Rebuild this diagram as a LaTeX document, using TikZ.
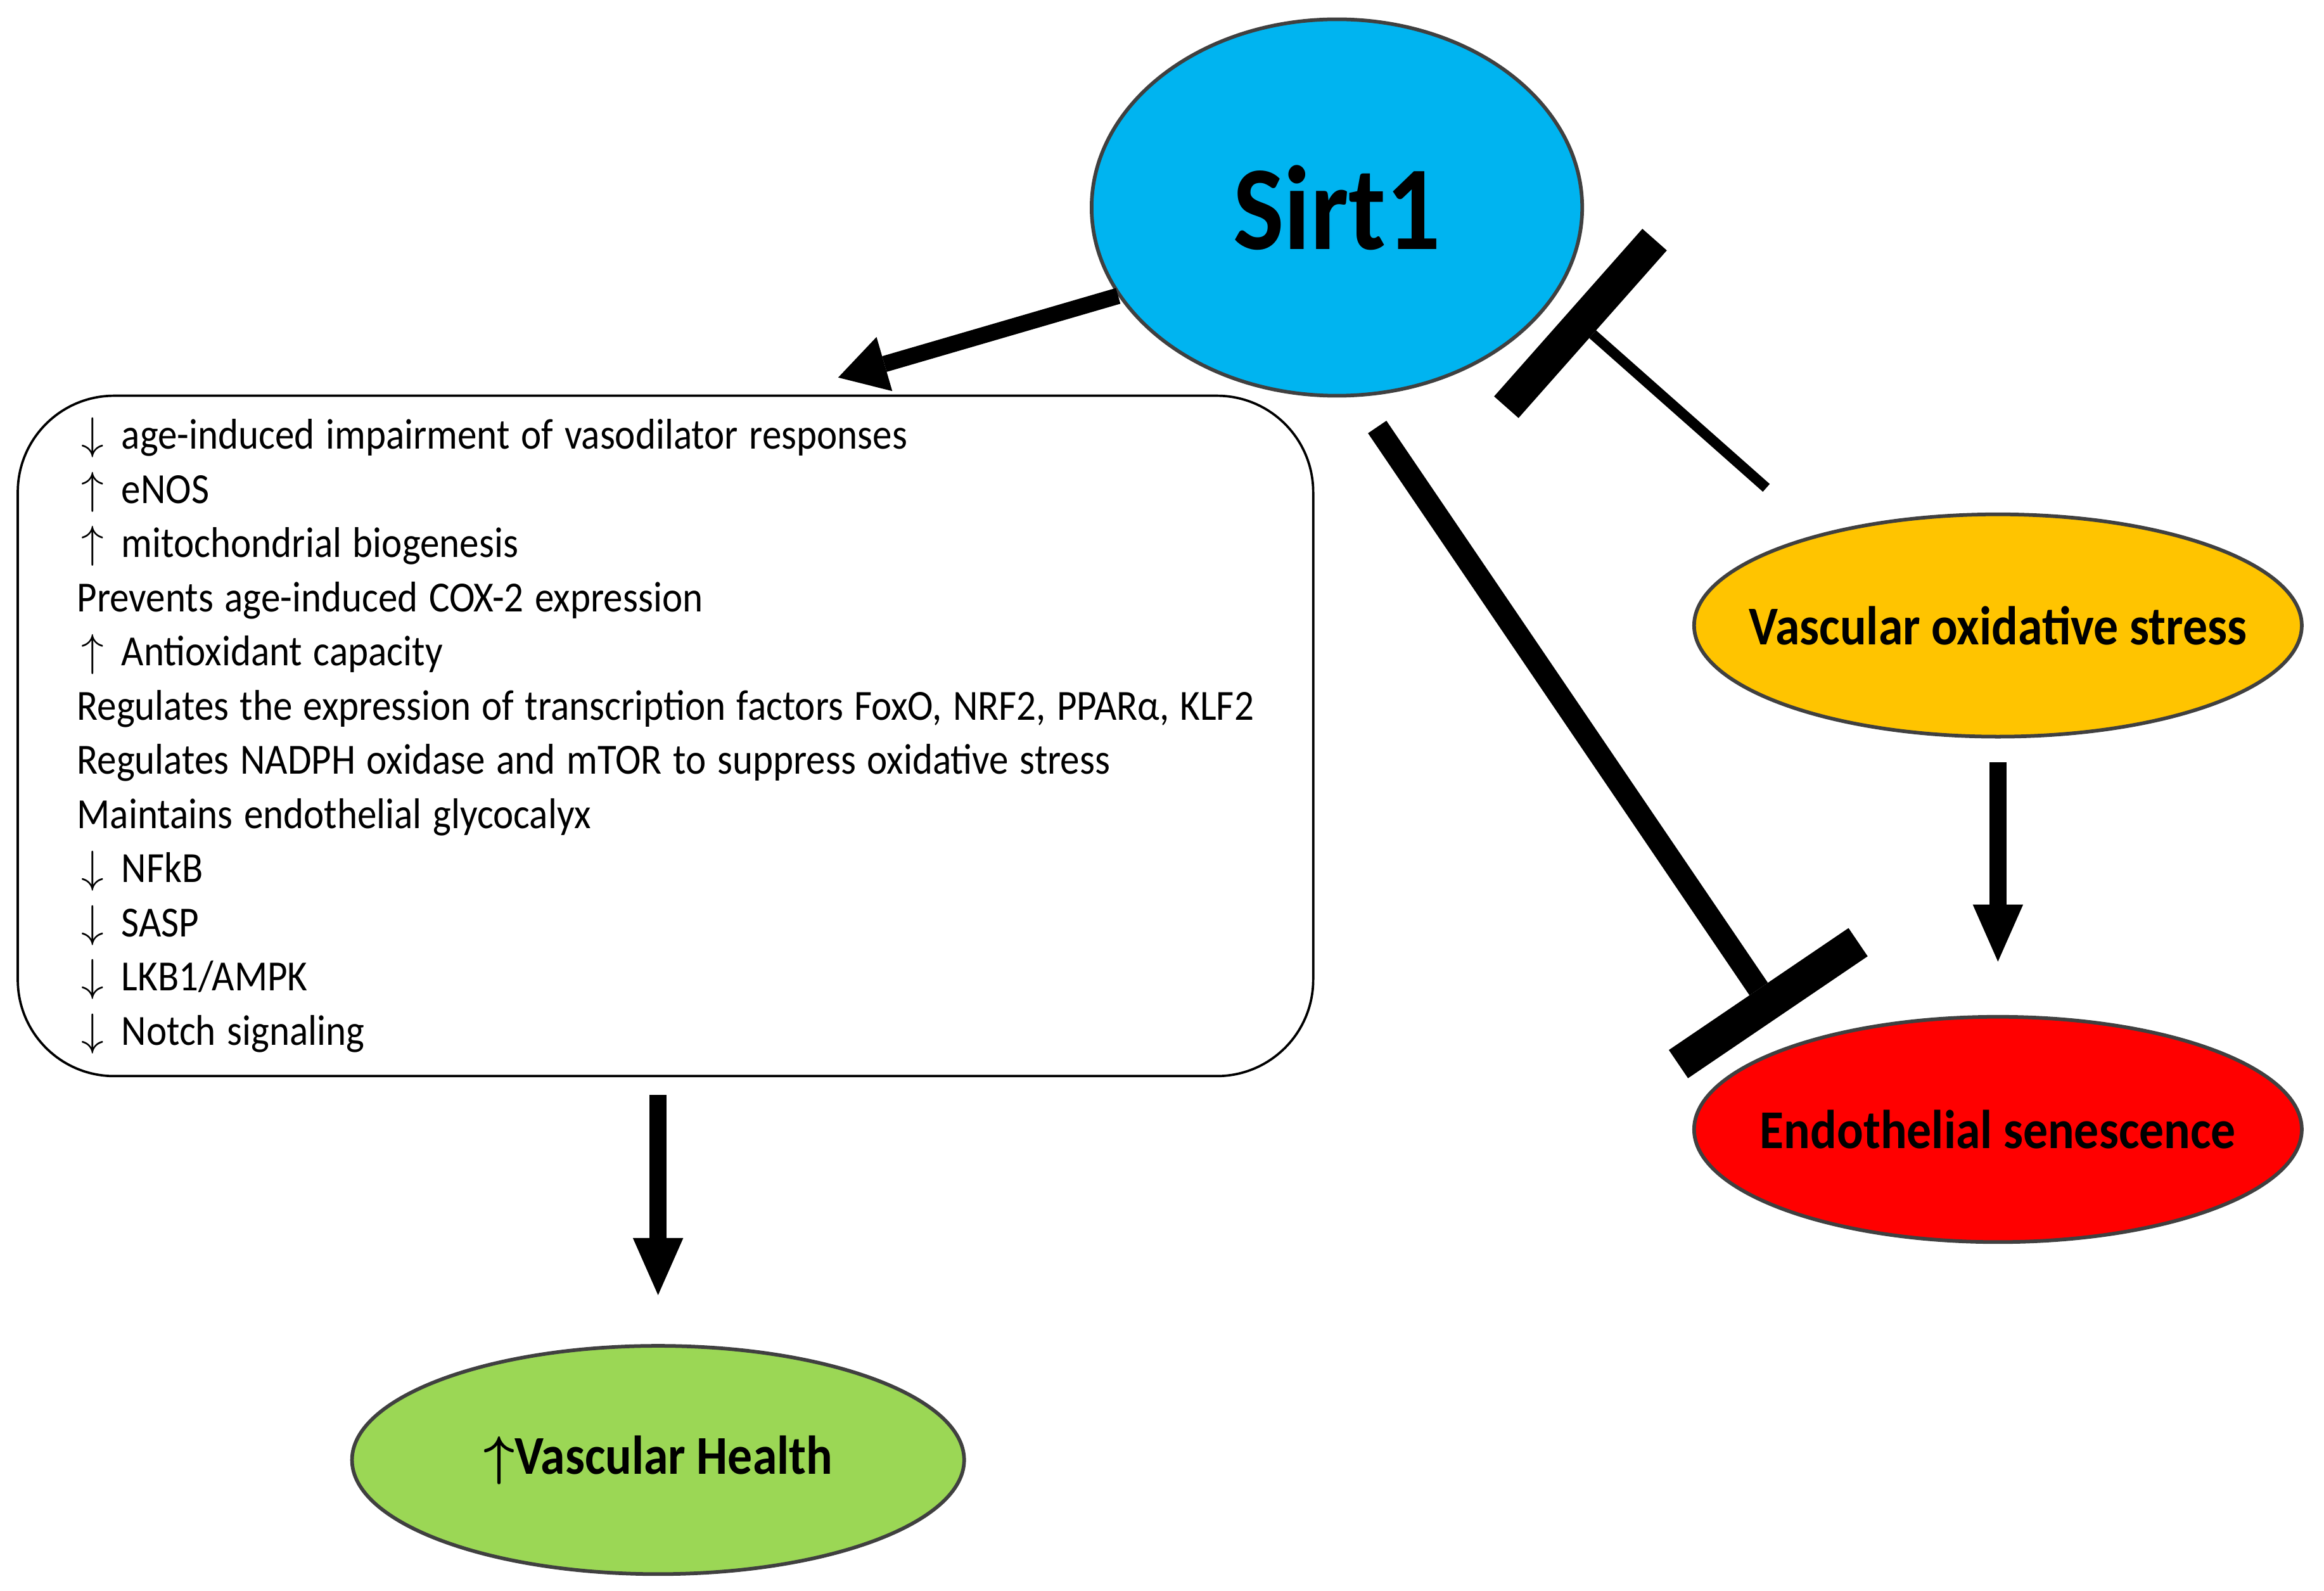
\documentclass[tikz,border=0pt]{standalone}
\usepackage{fontspec}
\setmainfont{Carlito}
\newfontfamily\listfont{Carlito}[FakeStretch=0.9]
\newfontfamily\labelfont{Carlito}[FakeStretch=0.9]
\usetikzlibrary{shapes.geometric, arrows.meta}

\definecolor{sirtblue}{RGB}{0,180,240}
\definecolor{stressgold}{RGB}{255,196,0}
\definecolor{senred}{RGB}{255,0,0}
\definecolor{healthgreen}{RGB}{155,215,85}

% setas no inicio das linhas da lista
\newcommand{\lsdown}{\makebox[0.6cm][l]{\hspace{0.06cm}$\downarrow$}}
\newcommand{\lsup}{\makebox[0.6cm][l]{\hspace{0.06cm}$\uparrow$}}
% espacos mais estreitos na lista
\newcommand{\tightsp}{\spaceskip=4.3pt plus 1pt minus 0.5pt\relax}

\begin{document}
\begin{tikzpicture}[x=0.2mm, y=0.2mm,
	blob/.style={ellipse, draw=black!75, line width=1.4pt, inner sep=0pt, font=\labelfont\bfseries\fontsize{21pt}{25pt}\selectfont},
	listbox/.style={draw, line width=0.9pt, rounded corners=1.3cm, minimum width=17.48cm, minimum height=9.18cm, text width=15.88cm, inner xsep=0.8cm, inner ysep=0.1cm, align=left, font=\listfont\fontsize{16.5pt}{20.8pt}\selectfont},
	pro/.style={line width=0.23cm, -{Triangle[length=0.77cm, width=0.68cm, line width=0pt]}},
	inh/.style={-{Rectangle[length=0.46cm, width=2.93cm, line width=0pt]}}]

	\useasboundingbox (0,0) rectangle (1568,1073);

	% Elipses
	\node[blob, fill=sirtblue, minimum width=6.62cm, minimum height=5.08cm, font=\labelfont\bfseries\fontsize{46pt}{50pt}\selectfont] (sirt) at (902,933) {\makebox[0pt]{Sirt1}};
	\node[blob, fill=stressgold, minimum width=8.2cm, minimum height=3cm] (vos) at (1348,651) {\makebox[0pt]{Vascular oxidative stress}};
	\node[blob, fill=senred, minimum width=8.2cm, minimum height=3.04cm] (es) at (1348,311) {\makebox[0pt]{Endothelial senescence}};
	\node[blob, fill=healthgreen, minimum width=8.26cm, minimum height=3.08cm] (vh) at (444,88) {\makebox[0pt]{{\boldmath$\uparrow$}Vascular Health}};

	% Caixa com a lista de efeitos
	\node[listbox] (box) at (449,576.5) {\tightsp
		\lsdown age-induced impairment of vasodilator responses\\
		\lsup eNOS\\
		\lsup mitochondrial biogenesis\\
		Prevents age-induced COX-2 expression\\
		\lsup Antioxidant capacity\\
		Regulates the expression of transcription factors FoxO, NRF2, PPARα, KLF2\\
		Regulates NADPH oxidase and mTOR to suppress oxidative stress\\
		Maintains endothelial glycocalyx\\
		\lsdown NFkB\\
		\lsdown SASP\\
		\lsdown LKB1/AMPK\\
		\lsdown Notch signaling};

	% Setas
	\coordinate (boxin) at ([xshift=2.33cm, yshift=0.23cm]box.north);
	\draw[pro, line width=0.22cm, -{Triangle[length=0.65cm, width=0.76cm, line width=0pt]}] (sirt.202) -- (boxin);
	\draw[pro, shorten <=0.24cm, shorten >=0.66cm] (box.south -| vh.north) -- (vh.north);
	\draw[pro, shorten <=0.32cm, shorten >=0.72cm] (vos) -- (es);

	% Inibicao
	\draw[inh, line width=0.3cm, shorten <=0.49cm, shorten >=0.43cm] (sirt.-84.5) -- (es.157.3);
	\draw[inh, line width=0.14cm, shorten <=0.94cm, shorten >=0.27cm, -{Rectangle[length=0.44cm, width=3.02cm, line width=0pt]}] (vos.153.5) -- (sirt.-23.9);

\end{tikzpicture}
\end{document}
